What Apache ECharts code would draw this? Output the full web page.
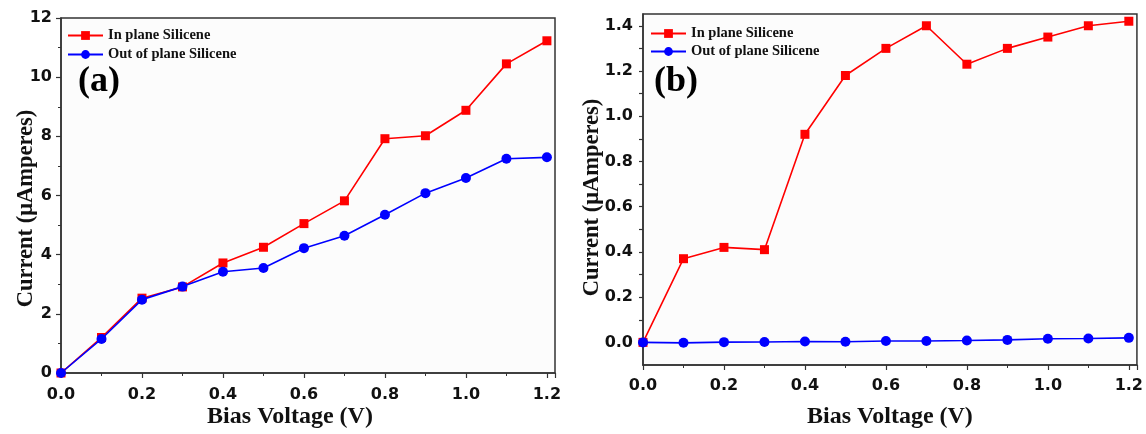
<!DOCTYPE html>
<html>
<head>
<meta charset="utf-8">
<script src="https://cdn.jsdelivr.net/npm/echarts@6/dist/echarts.min.js"></script>
<style>
html,body{margin:0;padding:0;background:#fff;}
#chart{width:1146px;height:434px;}
</style>
</head>
<body>
<div id="chart"></div>
<script>
// Data
var biasVoltage = [0, 0.1, 0.2, 0.3, 0.4, 0.5, 0.6, 0.7, 0.8, 0.9, 1.0, 1.1, 1.2];
var inPlaneA  = [0, 1.2, 2.53, 2.91, 3.72, 4.25, 5.05, 5.82, 7.92, 8.02, 8.88, 10.45, 11.23];
var outPlaneA = [0, 1.15, 2.48, 2.92, 3.42, 3.55, 4.22, 4.64, 5.35, 6.08, 6.59, 7.24, 7.29];
var inPlaneB  = [0, 0.37, 0.42, 0.41, 0.92, 1.18, 1.30, 1.40, 1.23, 1.30, 1.35, 1.40, 1.42];
var outPlaneB = [0, -0.002, 0.001, 0.002, 0.004, 0.003, 0.006, 0.006, 0.008, 0.011, 0.016, 0.017, 0.02];
var seriesNames = ['In plane Silicene', 'Out of plane Silicene'];
var panelLabels = ['(a)', '(b)'];
var xAxisTitle = 'Bias Voltage (V)';
var yAxisTitle = 'Current (\u03bcAmperes)';

function pairs(ys) { return biasVoltage.map(function (x, i) { return [x, ys[i]]; }); }

var serif = '"Liberation Serif", "Times New Roman", serif';
var sans = '"DejaVu Sans", Arial, sans-serif';
var RED = '#ff0000', BLUE = '#0000ff';
var LBL = { fontFamily: sans, fontWeight: 'bold', fontSize: 16, color: '#111' };

function xAxisCfg(gi, nameGap, margin, namePad) {
  return {
    type: 'value', gridIndex: gi, min: 0, max: 1.22, interval: 0.2,
    name: xAxisTitle, nameLocation: 'middle', nameGap: nameGap, nameMoveOverlap: false,
    nameTextStyle: { fontFamily: serif, fontWeight: 'bold', fontSize: 24, color: '#111', padding: namePad },
    axisLine: { show: true, onZero: false, lineStyle: { color: '#333', width: 1.5 } },
    axisTick: { show: true, inside: false, length: 5, lineStyle: { color: '#333', width: 1.2 } },
    minorTick: { show: true, splitNumber: 2, length: 3, lineStyle: { color: '#333', width: 1 } },
    splitLine: { show: false },
    axisLabel: Object.assign({ showMaxLabel: false, margin: margin,
      formatter: function (v) { return v.toFixed(1); } }, LBL)
  };
}

var legendText = { fontFamily: serif, fontWeight: 'bold', fontSize: 14.5, color: '#111', lineHeight: 14 };

var option = {
  animation: false,
  backgroundColor: '#ffffff',
  title: [
    { text: panelLabels[0], left: 78, top: 64, padding: 0, textStyle: { fontFamily: serif, fontWeight: 'bold', fontSize: 36, color: '#000' } },
    { text: panelLabels[1], left: 654, top: 64, padding: 0, textStyle: { fontFamily: serif, fontWeight: 'bold', fontSize: 36, color: '#000' } }
  ],
  legend: [
    { orient: 'vertical', left: 62, top: 23, itemWidth: 35, itemHeight: 11, itemGap: 4,
      data: seriesNames, textStyle: legendText },
    { orient: 'vertical', left: 645, top: 21, itemWidth: 35, itemHeight: 11, itemGap: 3,
      data: seriesNames, textStyle: legendText }
  ],
  grid: [
    { left: 61, top: 18, width: 494, height: 359, show: true, borderColor: '#333', borderWidth: 1.5, backgroundColor: '#fcfcfc' },
    { left: 643, top: 14, width: 495, height: 355, show: true, borderColor: '#333', borderWidth: 1.5, backgroundColor: '#fcfcfc' }
  ],
  xAxis: [ xAxisCfg(0, 32, 14, [0, 36, 0, 0]), xAxisCfg(1, 40, 13, 0) ],
  yAxis: [
    {
      type: 'value', gridIndex: 0, min: 0, max: 12, interval: 2,
      name: yAxisTitle, nameLocation: 'middle', nameGap: 23, nameMoveOverlap: false,
      nameTextStyle: { fontFamily: serif, fontWeight: 'bold', fontSize: 22.5, color: '#111', padding: [0, 26, 0, 0] },
      axisLine: { show: true, lineStyle: { color: '#333', width: 1.5 } },
      axisTick: { show: true, inside: false, length: 5, lineStyle: { color: '#333', width: 1.2 } },
      minorTick: { show: true, splitNumber: 2, length: 3, lineStyle: { color: '#333', width: 1 } },
      splitLine: { show: false },
      axisLabel: Object.assign({ margin: 9 }, LBL)
    },
    {
      type: 'value', gridIndex: 1, min: -0.1, max: 1.452, interval: 0.1,
      name: yAxisTitle, nameLocation: 'middle', nameGap: 39, nameMoveOverlap: false,
      nameTextStyle: { fontFamily: serif, fontWeight: 'bold', fontSize: 22.5, color: '#111', padding: [0, 16, 0, 0] },
      axisLine: { show: true, lineStyle: { color: '#333', width: 1.5 } },
      axisTick: { show: true, inside: false, length: 4, lineStyle: { color: '#333', width: 1.2 } },
      splitLine: { show: false },
      axisLabel: Object.assign({ showMaxLabel: false, showMinLabel: false, margin: 10,
        formatter: function (v) {
          var k = Math.round(v * 10);
          if (k < 0 || k % 2 !== 0) return '';
          return (k / 10).toFixed(1);
        } }, LBL)
    }
  ],
  series: [
    { name: seriesNames[0], type: 'line', xAxisIndex: 0, yAxisIndex: 0, data: pairs(inPlaneA),
      symbol: 'rect', symbolSize: 9, lineStyle: { color: RED, width: 1.6 }, itemStyle: { color: RED }, z: 3 },
    { name: seriesNames[1], type: 'line', xAxisIndex: 0, yAxisIndex: 0, data: pairs(outPlaneA),
      symbol: 'circle', symbolSize: 10, lineStyle: { color: BLUE, width: 1.6 }, itemStyle: { color: BLUE }, z: 4 },
    { name: seriesNames[0], type: 'line', xAxisIndex: 1, yAxisIndex: 1, data: pairs(inPlaneB),
      symbol: 'rect', symbolSize: 9, lineStyle: { color: RED, width: 1.6 }, itemStyle: { color: RED }, z: 3 },
    { name: seriesNames[1], type: 'line', xAxisIndex: 1, yAxisIndex: 1, data: pairs(outPlaneB),
      symbol: 'circle', symbolSize: 10, lineStyle: { color: BLUE, width: 1.6 }, itemStyle: { color: BLUE }, z: 4 }
  ]
};

var chart = echarts.init(document.getElementById('chart'), null, { renderer: 'canvas' });
chart.setOption(option);
</script>
</body>
</html>
